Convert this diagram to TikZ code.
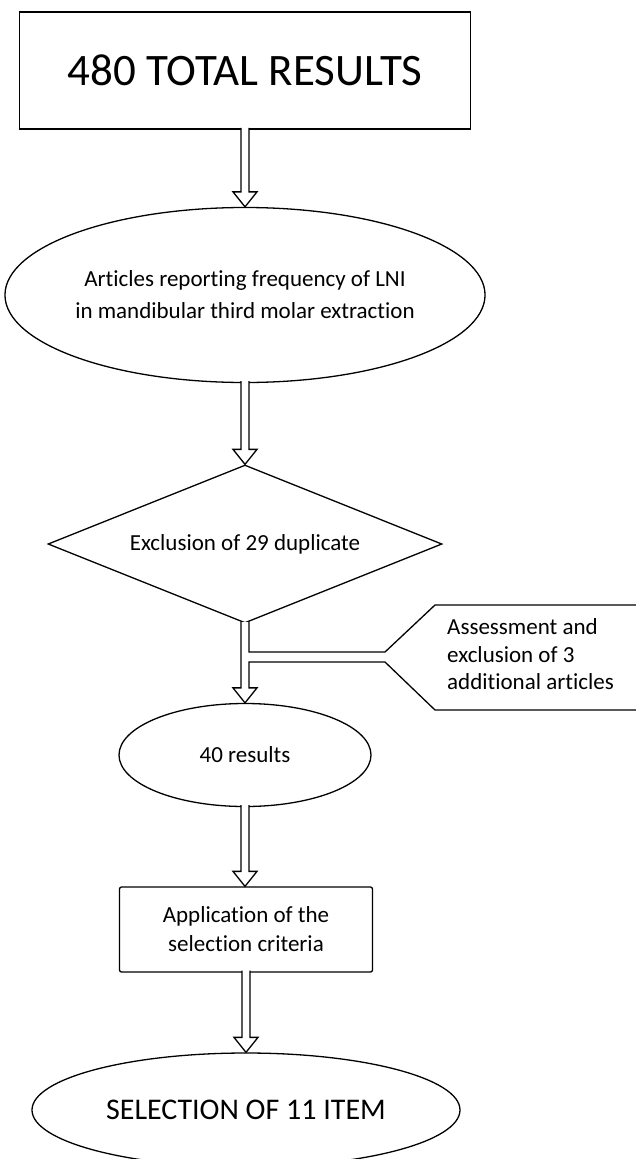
\documentclass[tikz,border=0pt]{standalone}
\usepackage{fontspec}
\setmainfont{Carlito}[Ligatures=NoCommon]
\usetikzlibrary{shapes.geometric,calc}
\tikzset{
  base/.style={draw=black, line width=1.3pt, fill=white, inner sep=0pt, align=center,
    font=\fontsize{23}{29}\selectfont},
  bigbox/.style={base, rectangle, line width=1.6pt, minimum width=451pt, minimum height=117pt,
    font=\fontsize{45}{54}\selectfont},
  oval/.style={base, ellipse},
  decision/.style={base, diamond},
  stepbox/.style={base, rectangle, rounded corners=2pt},
  conn/.style={draw=black, line width=1.3pt, line join=miter},
  note/.style={align=left, inner sep=0pt, font=\fontsize{23}{27.5}\selectfont},
}
\newcommand\harrow[2]{%
  \fill[white] let \p1=(#1.south), \p2=(#2.north) in
    (\x1-4pt,\y1+2pt) rectangle (\x1+4pt,\y2+15pt);
  \draw[conn] let \p1=(#1.south), \p2=(#2.north) in
    (\x1-4pt,\y1+2pt) -- (\x1-4pt,\y2+15pt) -- (\x1-12pt,\y2+15pt) -- (\x1,\y2)
    -- (\x1+12pt,\y2+15pt) -- (\x1+4pt,\y2+15pt) -- (\x1+4pt,\y1+2pt);}
\begin{document}
\begin{tikzpicture}[x=1pt,y=-1pt]
\useasboundingbox (0,0) rectangle (635,1159);
\fill[white] (0,0) rectangle (635,1159);

\node[bigbox] (total) at (245,70.5) {480 TOTAL RESULTS};
\node[oval, minimum width=468pt, minimum height=175pt, font=\fontsize{23}{32}\selectfont]
  (articles) at (245,295) {Articles reporting frequency of LNI\\in mandibular third molar extraction};
\node[decision, minimum width=394pt, minimum height=158pt, aspect=2.5]
  (dup) at (245,544) {Exclusion of 29 duplicate};
\node[oval, minimum width=252pt, minimum height=103pt] (res40) at (245,755) {40 results};
\node[stepbox, minimum width=253pt, minimum height=85pt] (crit) at (246,929.5)
  {Application of the\\selection criteria};
\node[oval, minimum width=428pt, minimum height=114pt, font=\fontsize{30}{36}\selectfont]
  (sel) at (246,1110) {SELECTION OF 11 ITEM};
\node[note, anchor=west] (assess) at (447,654.5)
  {Assessment and\\exclusion of 3\\additional articles};

% callout outline points
\coordinate (vU) at (385,652);
\coordinate (vL) at (385,662);
\coordinate (tl) at (435,605);
\coordinate (bl) at (435,710);
\coordinate (tr) at (640,605);
\coordinate (br) at (640,710);

\harrow{total}{articles}
\harrow{articles}{dup}

% arrow from duplicate exclusion to 40 results, with the side branch of the callout
\fill[white] let \p1=(dup.south), \p2=(res40.north) in
  (\x1-4pt,\y1+2pt) rectangle (\x1+4pt,\y2+15pt);
\draw[conn] let \p1=(dup.south), \p2=(res40.north), \p3=(vL) in
  (\x1-4pt,\y1+2pt) -- (\x1-4pt,\y2+15pt) -- (\x1-12pt,\y2+15pt) -- (\x1,\y2)
  -- (\x1+12pt,\y2+15pt) -- (\x1+4pt,\y2+15pt) -- (\x1+4pt,\y3) -- (vL) -- (bl) -- (br);
\draw[conn] let \p1=(dup.south), \p3=(vU) in
  (\x1+4pt,\y1+2pt) -- (\x1+4pt,\y3) -- (vU) -- (tl) -- (tr);

\harrow{res40}{crit}
\harrow{crit}{sel}
\end{tikzpicture}
\end{document}
